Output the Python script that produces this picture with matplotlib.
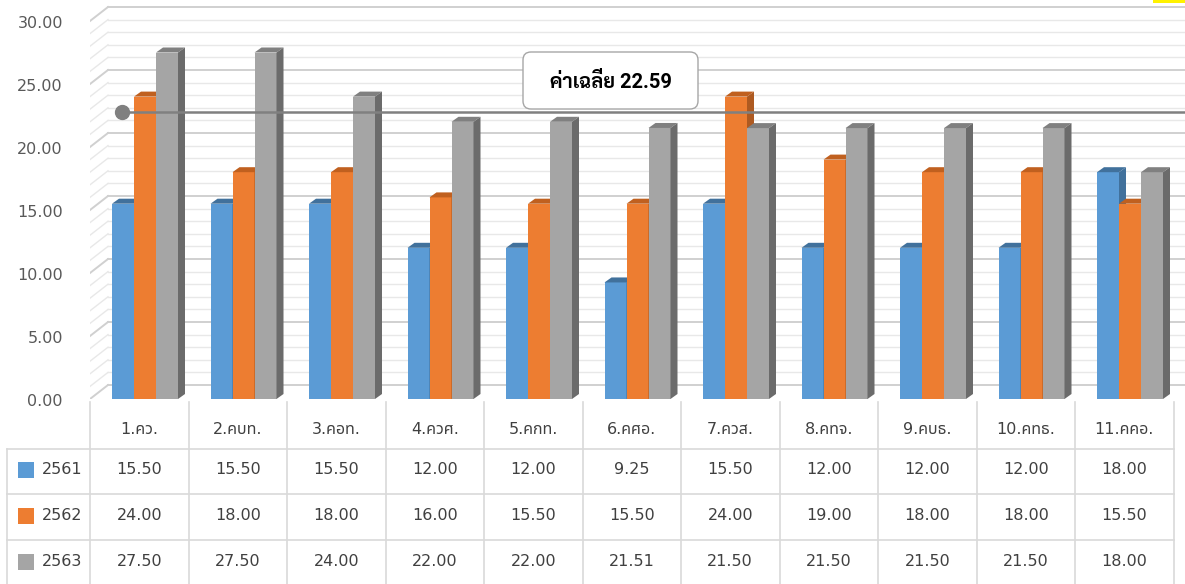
"""Average-rate chart by region, 2561-2563, Excel-style 3D columns with a data table."""
import matplotlib
matplotlib.use("Agg")
import matplotlib.pyplot as plt
from matplotlib.patches import Polygon, Rectangle, FancyBboxPatch
from matplotlib.lines import Line2D
from matplotlib.transforms import Affine2D, blended_transform_factory

categories = ["1.คว.", "2.คบท.", "3.คอท.", "4.ควศ.", "5.คกท.", "6.คศอ.",
              "7.ควส.", "8.คทจ.", "9.คบธ.", "10.คทธ.", "11.คคอ."]
years = ["2561", "2562", "2563"]
v2561 = [15.50, 15.50, 15.50, 12.00, 12.00, 9.25, 15.50, 12.00, 12.00, 12.00, 18.00]
v2562 = [24.00, 18.00, 18.00, 16.00, 15.50, 15.50, 24.00, 19.00, 18.00, 18.00, 15.50]
v2563 = [27.50, 27.50, 24.00, 22.00, 22.00, 21.51, 21.50, 21.50, 21.50, 21.50, 18.00]
average = 22.59
avg_label = "ค่าเฉลี่ย 22.59"
yticks = [0, 5, 10, 15, 20, 25, 30]

series = [v2561, v2562, v2563]
front = ["#5b9bd5", "#ed7d31", "#a5a5a5"]
top = ["#41719c", "#c0601f", "#808080"]
side = ["#41719c", "#ae5a21", "#6b6b6b"]

W, H = 1185, 584
CAT_PX = 98.5          # pixels per category
UNIT_PX = 12.6         # pixels per value unit
X0_PX, Y0_PX = 90, 399  # axis origin in pixels

NUM = ["DejaVu Sans", "Noto Sans Thai"]
BOLD = ["Roboto", "Sarabun", "Noto Sans Thai Looped", "Noto Sans Thai", "DejaVu Sans"]

fig = plt.figure(figsize=(W / 100, H / 100), dpi=100)
pix = Affine2D().scale(1 / W, -1 / H).translate(0, 1) + fig.transFigure

ax = fig.add_axes([X0_PX / W, 1 - Y0_PX / H, (W - X0_PX) / W, Y0_PX / H])
ax.set_xlim(0, (W - X0_PX) / CAT_PX)
ax.set_ylim(0, Y0_PX / UNIT_PX)
ax.axis("off")

# back wall / side wall grid
bdx, bdy = 18 / CAT_PX, 14 / UNIT_PX
for v in range(0, 31):
    major = v % 5 == 0
    col = "#d0d0d0" if major else "#e8e8e8"
    lw = 1.4 if major else 1.0
    ax.plot([0, bdx], [v, v + bdy], color=col, lw=lw, zorder=1)
    ax.plot([bdx, ax.get_xlim()[1]], [v + bdy, v + bdy], color=col, lw=lw, zorder=1)

# y tick labels
for v in yticks:
    ax.text(-(X0_PX - 63) / CAT_PX, v - 2.5 / UNIT_PX, f"{v:.2f}", ha="right",
            va="center", fontsize=11.5, color="#595959", family=NUM)

# 3D columns
bw = 22 / CAT_PX
off = 22 / CAT_PX
ddx, ddy = 7 / CAT_PX, 5 / UNIT_PX
for s, vals in enumerate(series):
    xs = [i + off + s * bw for i in range(len(categories))]
    ax.bar(xs, vals, width=bw, align="edge", color=front[s], lw=0, zorder=3 + s)
    for x, h in zip(xs, vals):
        x1 = x + bw
        ax.add_patch(Polygon([(x, h), (x1, h), (x1 + ddx, h + ddy), (x + ddx, h + ddy)],
                             closed=True, color=top[s], lw=0, zorder=3 + s))
        ax.add_patch(Polygon([(x1, 0), (x1 + ddx, ddy), (x1 + ddx, h + ddy), (x1, h)],
                             closed=True, color=side[s], lw=0, zorder=3 + s))

# average line
x_dot = (122 - X0_PX) / CAT_PX
ax.plot([x_dot, ax.get_xlim()[1]], [average + 0.2, average + 0.2], color="#808080",
        lw=1.8, zorder=10)
ax.plot([x_dot], [average + 0.2], "o", color="#808080", ms=10, zorder=11)
box = FancyBboxPatch((523, 52), 175, 57, boxstyle="round,pad=0,rounding_size=8",
                     transform=pix, facecolor="white", edgecolor="#a6a6a6", lw=1.0,
                     zorder=12)
fig.add_artist(box)
fig.text(610.5, 82, avg_label, transform=pix, ha="center", va="center",
         fontsize=14.5, fontweight="bold", color="black", family=BOLD, zorder=13)

# data table
grid_col = "#d9d9d9"
tx = blended_transform_factory(ax.transData, pix)
ncat = len(categories)
left_x = -(X0_PX - 7) / CAT_PX
for k in range(ncat + 1):
    fig.add_artist(Line2D([k, k], [402, H], transform=tx, color=grid_col, lw=1.2))
fig.add_artist(Line2D([left_x, left_x], [449, H], transform=tx, color=grid_col, lw=1.2))
for yl in [449, 494, 540]:
    fig.add_artist(Line2D([left_x, ncat], [yl, yl], transform=tx, color=grid_col, lw=1.2))

for i, c in enumerate(categories):
    fig.text(i + 0.5, 430, c, transform=tx, ha="center", va="center",
             fontsize=11.5, color="#404040", family=NUM)

row_y = [470, 516, 562]
for s, vals in enumerate(series):
    y = row_y[s]
    fig.add_artist(Rectangle((18, y - 8), 16, 16, transform=pix,
                             facecolor=front[s], edgecolor="none"))
    fig.text(42, y - 1, years[s], transform=pix, ha="left", va="center",
             fontsize=11.5, color="#404040", family=NUM)
    for i, v in enumerate(vals):
        fig.text(i + 0.5, y - 1, f"{v:.2f}", transform=tx, ha="center", va="center",
                 fontsize=11.5, color="#404040", family=NUM)

# small yellow mark at the top-right corner
fig.add_artist(Rectangle((1153, 0), 32, 3, transform=pix, facecolor="#fff200",
                         edgecolor="none"))

fig.savefig("out.png", dpi=100)
